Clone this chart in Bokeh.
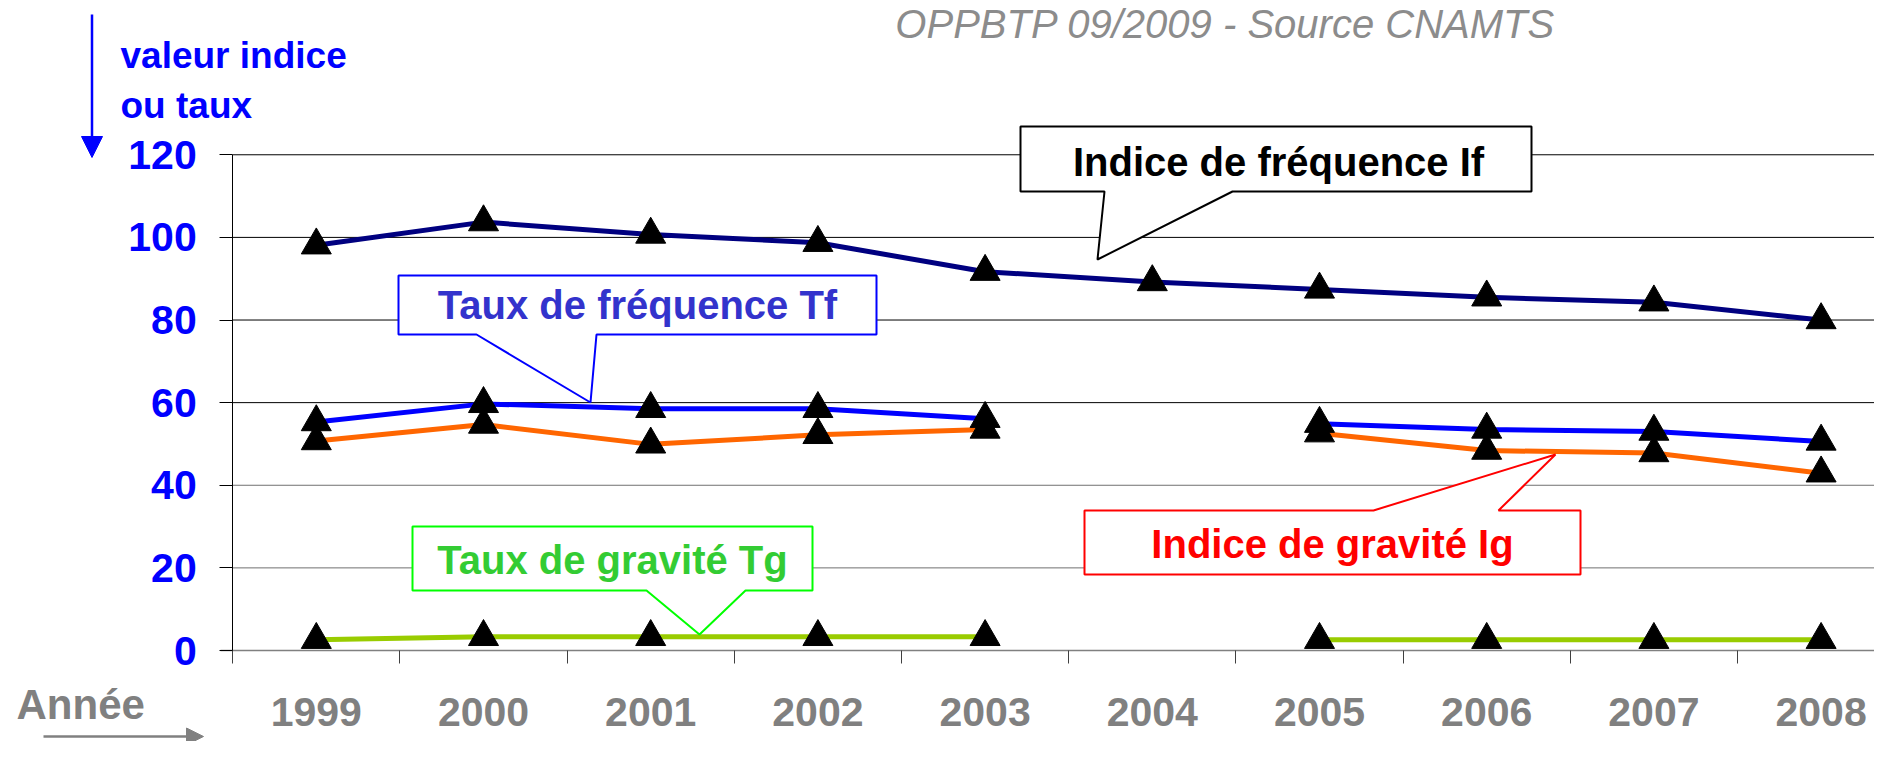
import numpy as np
from bokeh.plotting import figure
from bokeh.models import Range1d, LinearAxis, FixedTicker, Arrow, NormalHead
from bokeh.core.properties import value
from bokeh.embed import file_html
from bokeh.resources import INLINE

# ---------------- data ----------------
years = ["1999", "2000", "2001", "2002", "2003", "2004", "2005", "2006", "2007", "2008"]
indice_frequence = [98.1, 103.7, 100.7, 98.7, 91.7, 89.2, 87.4, 85.5, 84.3, 80.0]
taux_frequence = [55.3, 59.7, 58.5, 58.5, 56.1, None, 54.9, 53.5, 53.0, 50.6]
indice_gravite = [50.7, 54.7, 49.9, 52.2, 53.5, None, 52.6, 48.4, 47.8, 42.9]
taux_gravite = [2.6, 3.3, 3.3, 3.3, 3.3, None, 2.6, 2.6, 2.6, 2.6]
y_ticks = [0, 20, 40, 60, 80, 100, 120]

# ---------------- layout helpers (pixels -> data) ----------------
W, H = 1874, 741
X_C0, X_STEP = 315.8, 167.2
Y_0, Y_UNIT = 650.0, 4.131


def dx(px):
    return (px - X_C0) / X_STEP


def dy(py):
    return (Y_0 - py) / Y_UNIT


def mid(baseline, size):
    # vertical centre of a text line from its baseline
    return dy(baseline - 0.35 * size)


FONT = value("Liberation Sans")

p = figure(width=W, height=H, output_backend="svg", toolbar_location=None,
           x_range=Range1d(dx(0), dx(W)),
           y_range=Range1d(dy(H), dy(0)),
           x_axis_location=None, y_axis_location=None)
p.min_border = 0
p.outline_line_color = None
p.background_fill_color = "white"
p.border_fill_color = "white"
p.xgrid.grid_line_color = None
p.ygrid.grid_line_color = None

xs = list(range(len(years)))


def arr(v):
    return np.array([np.nan if a is None else a for a in v], dtype=float)


# ---------------- gridlines ----------------
x_right = dx(W)
dark = [t for t in y_ticks if t >= 60]
light = [t for t in y_ticks if 0 < t < 60]
p.segment(x0=-0.5, y0=dark, x1=x_right, y1=dark, line_color="#000000", line_width=1)
p.segment(x0=-0.5, y0=light, x1=x_right, y1=light, line_color="#707070", line_width=1)

# ---------------- axes ----------------
yax = LinearAxis(fixed_location=-0.5, bounds=(0, 120), ticker=FixedTicker(ticks=y_ticks))
yax.axis_line_color = "black"
yax.axis_line_width = 1
yax.major_tick_out = 13
yax.major_tick_in = 0
yax.major_tick_line_color = "black"
yax.minor_tick_line_color = None
yax.major_label_text_font = "Liberation Sans"
yax.major_label_text_font_size = "41px"
yax.major_label_text_font_style = "bold"
yax.major_label_text_color = "#0000ff"
yax.major_label_standoff = 23
p.add_layout(yax, "left")

xt = LinearAxis(fixed_location=0, bounds=(dx(220), len(years) - 0.5),
                ticker=FixedTicker(ticks=[i - 0.5 for i in range(len(years) + 1)]))
xt.axis_line_color = "#808080"
xt.axis_line_width = 1.5
xt.major_tick_out = 13
xt.major_tick_in = 0
xt.major_tick_line_color = "#404040"
xt.minor_tick_line_color = None
xt.major_label_text_color = None
p.add_layout(xt, "below")

xl = LinearAxis(fixed_location=0, ticker=FixedTicker(ticks=xs),
                major_label_overrides={i: y for i, y in enumerate(years)})
xl.axis_line_color = None
xl.major_tick_line_color = None
xl.minor_tick_line_color = None
xl.major_tick_out = 0
xl.major_tick_in = 0
xl.major_label_standoff = 47
xl.major_label_text_font = "Liberation Sans"
xl.major_label_text_font_size = "41px"
xl.major_label_text_font_style = "bold"
xl.major_label_text_color = "#808080"
p.add_layout(xl, "below")

# ---------------- series ----------------
series = [
    (indice_frequence, "#000080"),
    (taux_frequence, "#0000ff"),
    (indice_gravite, "#ff6600"),
    (taux_gravite, "#99cc00"),
]
for vals, col in series:
    p.line(xs, arr(vals), line_color=col, line_width=5)
for vals, col in series:
    p.scatter(xs, arr(vals), marker="triangle", size=30,
              fill_color="black", line_color="black")

# ---------------- callouts ----------------
def callout(pts, border, text, tx, ty, tcol):
    p.patch([dx(a) for a, b in pts], [dy(b) for a, b in pts],
            fill_color="white", line_color=border, line_width=2)
    p.text(x=[dx(tx)], y=[mid(ty, 40)], text=[text], text_font=FONT,
           text_font_size=value("40px"), text_font_style="bold",
           text_color=tcol, text_align="center", text_baseline="middle")


callout([(1020, 126), (1531, 126), (1531, 191), (1232, 191), (1097, 259), (1104, 191), (1020, 191)],
        "#000000", "Indice de fréquence If", 1278, 175, "#000000")
callout([(398, 275), (876, 275), (876, 334), (596, 334), (590, 402), (476, 334), (398, 334)],
        "#0000ff", "Taux de fréquence Tf", 637, 318, "#3333cc")
callout([(1084, 510), (1373, 510), (1555, 454), (1498, 510), (1580, 510), (1580, 574), (1084, 574)],
        "#ff0000", "Indice de gravité Ig", 1332, 557, "#ff0000")
callout([(412, 526), (812, 526), (812, 590), (745, 590), (699, 634), (646, 590), (412, 590)],
        "#00ff00", "Taux de gravité Tg", 612, 573, "#33cc33")

# ---------------- other texts ----------------
p.text(x=[dx(1225)], y=[mid(37, 40)], text=["OPPBTP 09/2009 - Source CNAMTS"], text_font=FONT,
       text_font_size=value("40px"), text_font_style="italic", text_color="#8c8c8c",
       text_align="center", text_baseline="middle")
p.text(x=[dx(120), dx(120)], y=[mid(68, 37), mid(118, 37)], text=["valeur indice", "ou taux"],
       text_font=FONT, text_font_size=value("37px"), text_font_style="bold",
       text_color="#0000ff", text_align="left", text_baseline="middle")
p.text(x=[dx(16)], y=[mid(719, 42)], text=["Année"], text_font=FONT,
       text_font_size=value("42px"), text_font_style="bold", text_color="#808080",
       text_align="left", text_baseline="middle")

# ---------------- arrows ----------------
p.add_layout(Arrow(end=NormalHead(size=21, fill_color="#0000ff", line_color="#0000ff"),
                   x_start=dx(91.5), y_start=dy(14), x_end=dx(91.5), y_end=dy(157),
                   line_color="#0000ff", line_width=2.5))
p.add_layout(Arrow(end=NormalHead(size=17, fill_color="#808080", line_color="#808080"),
                   x_start=dx(43), y_start=dy(736), x_end=dx(203), y_end=dy(736),
                   line_color="#808080", line_width=2.5))

open("out.html", "w").write(file_html(p, INLINE))
